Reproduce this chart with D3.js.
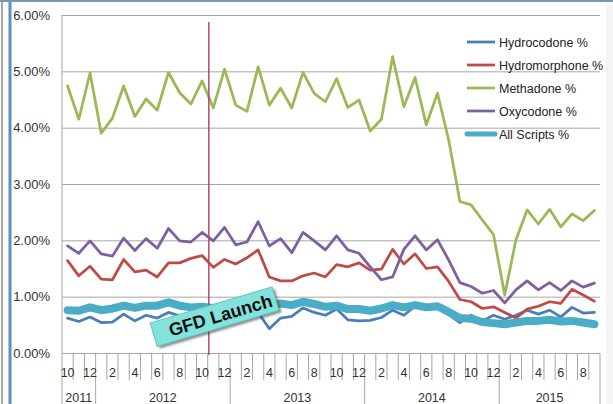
<!DOCTYPE html>
<html>
<head>
<meta charset="utf-8">
<script src="https://cdn.jsdelivr.net/npm/d3@7"></script>
<style>
  html, body { margin: 0; padding: 0; background: #fff; }
  svg { display: block; font-family: "Liberation Sans", Arial, sans-serif; }
</style>
</head>
<body>
<svg id="chart" width="613" height="404"></svg>
<script>
// Monthly share of prescriptions (%), Oct 2011 – Sep 2015
const months = d3.timeMonth.range(new Date(2011, 9, 1), new Date(2015, 9, 1));

const hydrocodone = [0.62, 0.56, 0.64, 0.54, 0.55, 0.69, 0.57, 0.67, 0.62, 0.72, 0.66, 0.63,
  0.68, 0.62, 0.70, 0.65, 0.73, 0.72, 0.43, 0.62, 0.65, 0.80, 0.72, 0.67,
  0.78, 0.59, 0.57, 0.58, 0.63, 0.76, 0.67, 0.83, 0.78, 0.83, 0.68, 0.54,
  0.67, 0.57, 0.67, 0.60, 0.67, 0.76, 0.69, 0.76, 0.64, 0.81, 0.71, 0.72];

const hydromorphone = [1.64, 1.37, 1.54, 1.31, 1.30, 1.66, 1.44, 1.47, 1.35, 1.60, 1.60, 1.68,
  1.73, 1.52, 1.66, 1.58, 1.69, 1.83, 1.35, 1.28, 1.28, 1.37, 1.42, 1.35,
  1.57, 1.53, 1.60, 1.47, 1.49, 1.84, 1.58, 1.76, 1.50, 1.53, 1.27, 0.95,
  0.91, 0.79, 0.82, 0.72, 0.62, 0.78, 0.83, 0.91, 0.88, 1.13, 1.03, 0.92];

const methadone = [4.74, 4.15, 4.97, 3.90, 4.17, 4.74, 4.20, 4.51, 4.31, 4.98, 4.62, 4.42,
  4.83, 4.35, 5.04, 4.40, 4.29, 5.08, 4.40, 4.70, 4.35, 4.98, 4.61, 4.46,
  4.87, 4.36, 4.49, 3.94, 4.15, 5.26, 4.37, 4.89, 4.05, 4.61, 3.78, 2.69,
  2.63, 2.36, 2.10, 1.03, 2.01, 2.54, 2.29, 2.55, 2.24, 2.47, 2.35, 2.53];

const oxycodone = [1.90, 1.77, 1.99, 1.76, 1.72, 2.04, 1.82, 2.03, 1.86, 2.21, 1.99, 1.97,
  2.14, 1.99, 2.23, 1.92, 1.97, 2.33, 1.90, 2.03, 1.78, 2.14, 1.99, 1.83,
  2.08, 1.83, 1.77, 1.53, 1.30, 1.35, 1.84, 2.08, 1.83, 2.01, 1.65, 1.25,
  1.18, 1.06, 1.11, 0.89, 1.12, 1.28, 1.12, 1.25, 1.11, 1.28, 1.17, 1.24];

const allScripts = [0.76, 0.75, 0.81, 0.76, 0.79, 0.84, 0.80, 0.84, 0.84, 0.90, 0.84, 0.81,
  0.82, 0.80, 0.82, 0.80, 0.82, 0.84, 0.83, 0.88, 0.85, 0.91, 0.87, 0.82,
  0.84, 0.78, 0.78, 0.75, 0.79, 0.85, 0.81, 0.85, 0.81, 0.83, 0.73, 0.62,
  0.61, 0.55, 0.53, 0.51, 0.54, 0.57, 0.57, 0.59, 0.56, 0.57, 0.54, 0.51];

const seriesNames = ["Hydrocodone %", "Hydromorphone %", "Methadone %", "Oxycodone %", "All Scripts %"];
const seriesColors = ["#4a7ebb", "#be4b48", "#98b954", "#7d60a0", "#4bacc6"];
const seriesWidths = [2.75, 2.75, 2.75, 2.75, 8];
const seriesValues = [hydrocodone, hydromorphone, methadone, oxycodone, allScripts];

const yTicks = [0, 1, 2, 3, 4, 5, 6];
const yearLabels = ["2011", "2012", "2013", "2014", "2015"];
const launchDate = new Date(2012, 10, 4);
const launchLabel = "GFD Launch";

// ---------------------------------------------------------------
const svg = d3.select("#chart");
const plotLeft = 62, plotRight = 600, plotTop = 15, plotBase = 353;

const x = d3.scaleBand().domain(d3.range(months.length)).range([plotLeft, plotRight]).padding(0);
const bw = x.bandwidth();
const cx = i => x(i) + bw / 2;
const y = d3.scaleLinear().domain([0, 6]).range([plotBase, plotTop]);

// frame
svg.append("rect").attr("x", 606).attr("y", 0).attr("width", 7).attr("height", 404).attr("fill", "#f2f5f2");
svg.append("line").attr("x1", 2).attr("x2", 2).attr("y1", 0).attr("y2", 404)
  .attr("stroke", "#a8a8a8").attr("stroke-width", 2);
svg.append("line").attr("x1", 10).attr("x2", 10).attr("y1", 0).attr("y2", 404)
  .attr("stroke", "#5b8fc2").attr("stroke-width", 3);
svg.append("line").attr("x1", 0).attr("x2", 613).attr("y1", 1).attr("y2", 1)
  .attr("stroke", "#7b97ad").attr("stroke-width", 2);

// y axis with gridlines
const yAxis = d3.axisLeft(y).tickValues(yTicks)
  .tickFormat(d => d.toFixed(2) + "%")
  .tickSizeInner(-(plotRight - plotLeft)).tickSizeOuter(0).tickPadding(12);
const gy = svg.append("g").attr("transform", `translate(${plotLeft},0)`).call(yAxis);
gy.select(".domain").remove();
gy.selectAll(".tick line").attr("stroke", "#a6a6a6").attr("stroke-width", 1);
gy.selectAll(".tick text").attr("fill", "#333").style("font-size", "13px")
  .style("font-family", "'Liberation Sans', Arial, sans-serif");

// category axis: boundary ticks, month labels, year labels
const bounds = d3.range(months.length + 1);
const isYearEdge = i => i === 0 || i === months.length || months[i].getMonth() === 0;
svg.append("g").selectAll("line").data(bounds).join("line")
  .attr("x1", i => i < months.length ? x(i) : plotRight)
  .attr("x2", i => i < months.length ? x(i) : plotRight)
  .attr("y1", i => (i === 0) ? plotTop : plotBase)
  .attr("y2", i => isYearEdge(i) ? 404 : 380)
  .attr("stroke", "#a6a6a6").attr("stroke-width", 1);

svg.append("g").selectAll("text")
  .data(d3.range(months.length).filter(i => (months[i].getMonth() + 1) % 2 === 0)).join("text")
  .attr("x", i => cx(i)).attr("y", 376.5)
  .attr("text-anchor", "middle").attr("fill", "#333").style("font-size", "12.5px")
  .text(i => months[i].getMonth() + 1);

svg.append("g").selectAll("text").data(yearLabels).join("text")
  .attr("x", yr => {
    const idx = d3.range(months.length).filter(i => months[i].getFullYear() === +yr);
    return (x(idx[0]) + x(idx[idx.length - 1]) + bw) / 2;
  })
  .attr("y", 402).attr("text-anchor", "middle").attr("fill", "#333").style("font-size", "12.5px")
  .text(d => d);

// series lines
const line = d3.line().x((d, i) => cx(i)).y(d => y(d));
svg.append("g").selectAll("path").data(seriesValues).join("path")
  .attr("d", line)
  .attr("fill", "none")
  .attr("stroke", (d, i) => seriesColors[i])
  .attr("stroke-width", (d, i) => seriesWidths[i])
  .attr("stroke-linejoin", "round")
  .attr("stroke-linecap", "round");

// launch marker
const mIdx = months.findIndex(m => m.getFullYear() === launchDate.getFullYear() && m.getMonth() === launchDate.getMonth());
const daysIn = d3.timeDay.count(months[mIdx], d3.timeMonth.offset(months[mIdx], 1));
const launchX = x(mIdx) + bw * (launchDate.getDate() - 1) / daysIn;
svg.append("line").attr("x1", launchX).attr("x2", launchX).attr("y1", 22).attr("y2", 355)
  .attr("stroke", "#b5476b").attr("stroke-width", 1.5);

const defs = svg.append("defs");
defs.append("filter").attr("id", "soft").attr("x", "-20%").attr("y", "-50%").attr("width", "140%").attr("height", "200%")
  .append("feGaussianBlur").attr("stdDeviation", 1.2);

const tag = svg.append("g").attr("transform", "translate(214.6,316.7) rotate(-16.5)");
tag.append("rect").attr("x", -61.5).attr("y", -9.5).attr("width", 127).attr("height", 24.5)
  .attr("fill", "#333").attr("opacity", 0.55).attr("filter", "url(#soft)");
tag.append("rect").attr("x", -63.5).attr("y", -12.25).attr("width", 127).attr("height", 24.5)
  .attr("fill", "#84e2dc").attr("stroke", "#5fc4bd").attr("stroke-width", 1);
tag.append("text").attr("x", 6).attr("y", 6.5).attr("text-anchor", "middle")
  .attr("fill", "#111").style("font-size", "18px").style("font-weight", "bold")
  .text(launchLabel);

// legend
const legend = svg.append("g").selectAll("g").data(seriesNames).join("g")
  .attr("transform", (d, i) => `translate(467,${42 + i * 23})`);
legend.append("line").attr("x1", 0).attr("x2", 28).attr("y1", 0).attr("y2", 0)
  .attr("stroke", (d, i) => seriesColors[i])
  .attr("stroke-width", (d, i) => i === 4 ? 5 : 2.75)
  .attr("stroke-linecap", (d, i) => i === 4 ? "round" : "butt");
legend.append("text").attr("x", 32).attr("y", 4.5).attr("fill", "#222").style("font-size", "12.5px")
  .text(d => d);
</script>
</body>
</html>
